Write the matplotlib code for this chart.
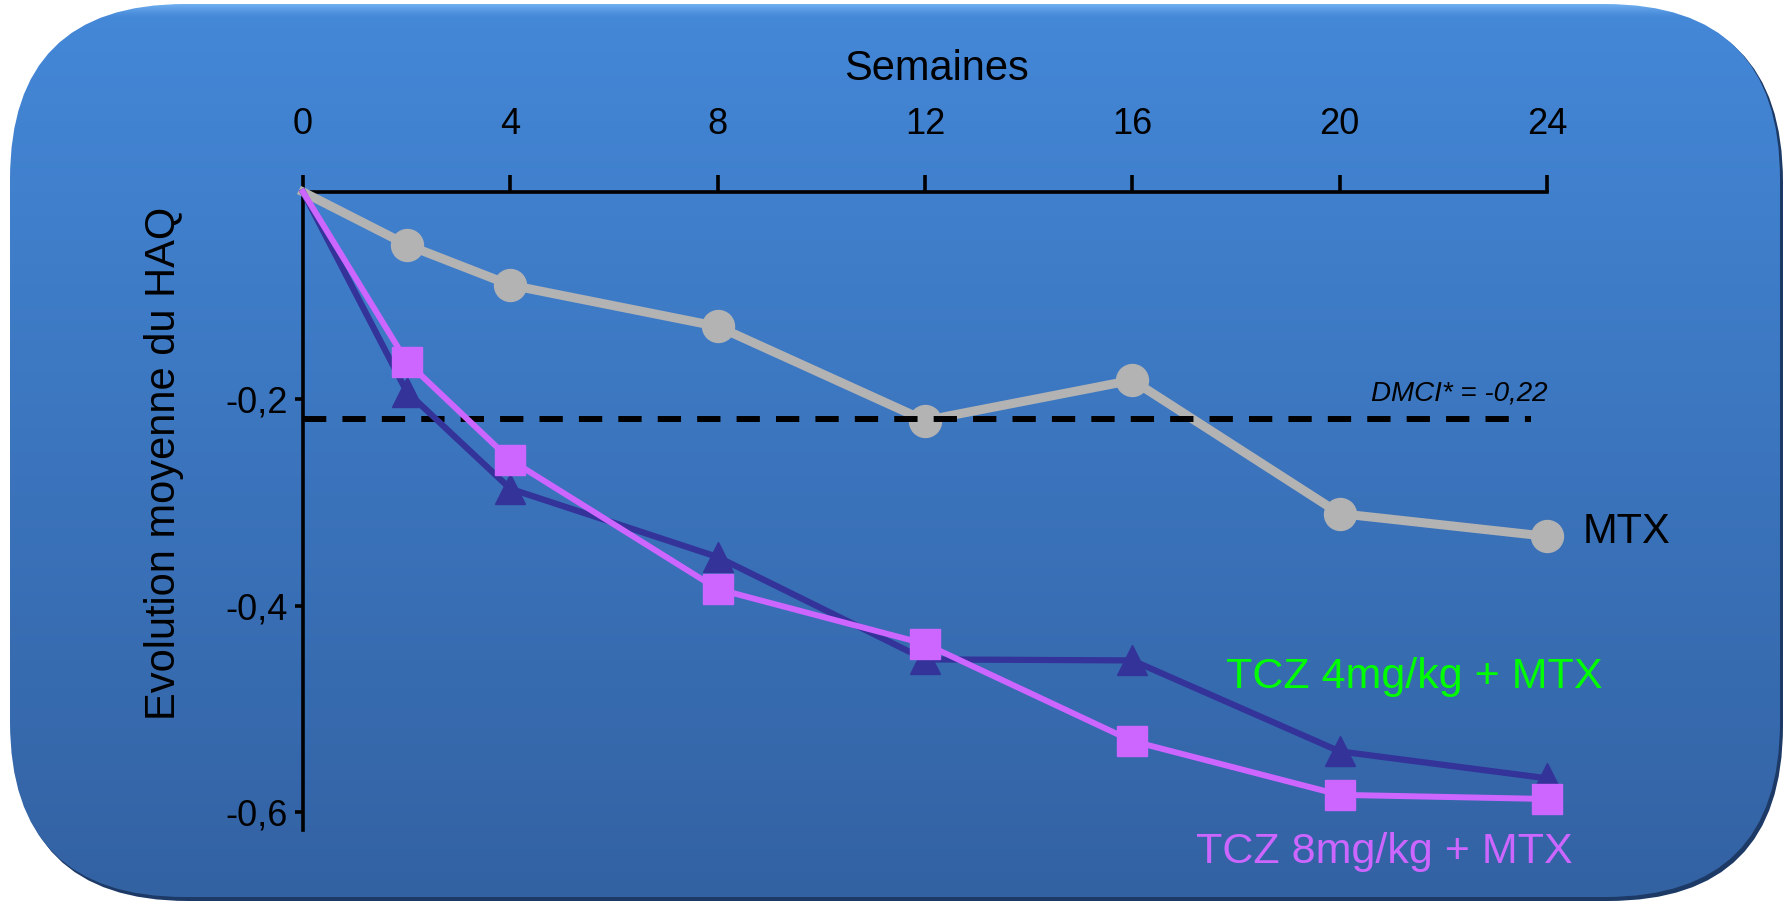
import matplotlib
matplotlib.use("Agg")
import matplotlib.pyplot as plt
import numpy as np
from matplotlib.patches import FancyBboxPatch

plt.rcParams["font.family"] = ["Liberation Sans", "DejaVu Sans"]

# data
weeks = [0, 2, 4, 8, 12, 16, 20, 24]
mtx = [0, -0.051, -0.090, -0.130, -0.221, -0.182, -0.311, -0.333]
tcz4 = [0, -0.193, -0.287, -0.353, -0.452, -0.453, -0.541, -0.567]
tcz8 = [0, -0.164, -0.259, -0.384, -0.437, -0.531, -0.583, -0.587]
dmci = -0.22
xticks = [0, 4, 8, 12, 16, 20, 24]
yticks = [-0.2, -0.4, -0.6]
ytick_labels = ["-0,2", "-0,4", "-0,6"]

W, H = 1785, 902
fig = plt.figure(figsize=(W / 100, H / 100), dpi=100)
fig.patch.set_facecolor("white")

# rounded blue panel behind the chart
bg = fig.add_axes([0, 0, 1, 1])
bg.set_xlim(0, W)
bg.set_ylim(H, 0)
bg.axis("off")

shadow = FancyBboxPatch((13, 7), 1770, 894, boxstyle="round,pad=0,rounding_size=175",
                        facecolor="#1d3a66", edgecolor="none")
bg.add_patch(shadow)
panel = FancyBboxPatch((10, 4), 1770, 893, boxstyle="round,pad=0,rounding_size=175",
                       facecolor="none", edgecolor="none")
bg.add_patch(panel)

top = np.array([68, 136, 216]) / 255
bottom = np.array([51, 98, 163]) / 255
t = np.linspace(0, 1, 893)[:, None]
grad = top * (1 - t) + bottom * t
# light rim along the top edge
rim = np.clip(1 - np.arange(893) / 14.0, 0, 1)[:, None] ** 1.5
grad = grad * (1 - rim * 0.6) + np.array([140, 200, 255]) / 255 * rim * 0.6
img = bg.imshow(grad[:, None, :], extent=(10, 1780, 897, 4), aspect="auto", zorder=1)
img.set_clip_path(panel)

# main chart
ax = fig.add_axes([303 / W, (H - 830) / H, (1547 - 303) / W, (830 - 192) / H])
ax.patch.set_alpha(0)
ax.set_xlim(0, 24)
ax.set_ylim(-0.617, 0)

pts = slice(1, None)  # no marker at week 0
ax.plot(weeks, mtx, color="#b3b3b3", lw=6.5, marker="o", ms=23, markevery=pts,
        zorder=3, clip_on=False)
ax.plot([0, 23.7], [dmci, dmci], color="black", lw=4.3, dashes=(3.9, 2.7), zorder=4)
ax.plot(weeks, tcz4, color="#333399", lw=4.5, marker="^", ms=22, markevery=pts,
        zorder=5, clip_on=False)
ax.plot(weeks, tcz8, color="#cc66ff", lw=4.3, marker="s", ms=22, markevery=pts,
        zorder=6, clip_on=False)

ax.spines["bottom"].set_visible(False)
ax.spines["right"].set_visible(False)
for s in ["top", "left"]:
    ax.spines[s].set_linewidth(2.6)
    ax.spines[s].set_color("black")

ax.xaxis.tick_top()
ax.set_xticks(xticks)
ax.set_xticklabels([str(x) for x in xticks])
ax.set_yticks(yticks)
ax.set_yticklabels(ytick_labels)
ax.tick_params(axis="x", direction="out", length=12, width=2.6, pad=24, labelsize=26)
ax.tick_params(axis="y", direction="out", length=6, width=2.6, pad=5, labelsize=26)

fig.text(936 / W, 1 - 80 / H, "Semaines", fontsize=30, ha="center", va="baseline")
fig.text(175 / W, 1 - 463 / H, "Evolution moyenne du HAQ", fontsize=30, rotation=90,
         rotation_mode="anchor", ha="center", va="baseline")
fig.text(1583 / W, 1 - 543 / H, "MTX", fontsize=30, ha="left", va="baseline")
fig.text(1414 / W, 1 - 688 / H, "TCZ 4mg/kg + MTX", fontsize=31, color="#00ff00",
         ha="center", va="baseline")
fig.text(1384 / W, 1 - 863 / H, "TCZ 8mg/kg + MTX", fontsize=31, color="#cc66ff",
         ha="center", va="baseline")
ax.text(24, -0.2015, "DMCI* = -0,22", fontsize=20, style="italic", ha="right", va="baseline")

fig.savefig("out.png", dpi=100)
